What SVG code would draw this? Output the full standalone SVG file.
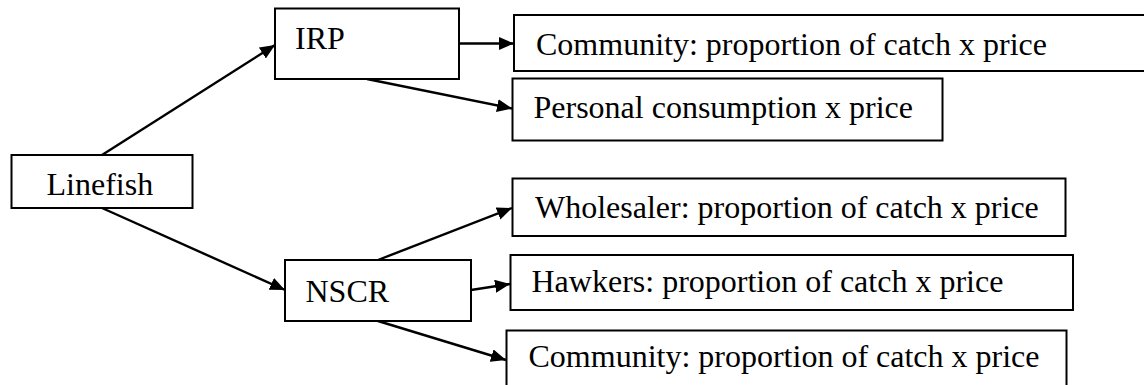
<svg xmlns="http://www.w3.org/2000/svg" width="1144" height="385" viewBox="0 0 1144 385">
<style>
.box{fill:#fff;stroke:#000;stroke-width:2}
.lbl{font-family:"Liberation Serif","Times New Roman",serif;font-size:32px;fill:#000}
.con{stroke:#000;stroke-width:2.4;fill:none;marker-end:url(#ah)}
</style>
<defs>
<marker id="ah" markerUnits="userSpaceOnUse" markerWidth="16" markerHeight="14" refX="15" refY="6.5" orient="auto">
<path d="M0,0 L15,6.5 L0,13 z" fill="#000"/>
</marker>
</defs>
<rect width="1144" height="385" fill="#fff"/>
<g id="connectors">
<line class="con" x1="102" y1="155" x2="275" y2="45"/>
<line class="con" x1="102" y1="208" x2="285" y2="290"/>
<line class="con" x1="459" y1="43.5" x2="514" y2="43.5"/>
<line class="con" x1="367" y1="79" x2="512" y2="108.5"/>
<line class="con" x1="378" y1="260" x2="512" y2="208"/>
<line class="con" x1="471" y1="290" x2="510" y2="284"/>
<line class="con" x1="378" y1="321" x2="506" y2="360"/>
</g>
<g id="linefish">
<rect class="box" x="11.5" y="155" width="181" height="53"/>
<text class="lbl" x="46.5" y="195">Linefish</text>
</g>
<g id="irp">
<rect class="box" x="275" y="8.5" width="184" height="70.5"/>
<text class="lbl" x="295" y="48.5">IRP</text>
</g>
<g id="nscr">
<rect class="box" x="285" y="260" width="186" height="61"/>
<text class="lbl" x="305.5" y="301.5">NSCR</text>
</g>
<g id="irp-community">
<rect class="box" x="514" y="15" width="640" height="56"/>
<text class="lbl" x="536" y="54.5">Community: proportion of catch x price</text>
</g>
<g id="irp-personal">
<rect class="box" x="512.5" y="78.5" width="430" height="62"/>
<text class="lbl" x="533.5" y="118">Personal consumption x price</text>
</g>
<g id="nscr-wholesaler">
<rect class="box" x="512.5" y="178.5" width="553" height="57.5"/>
<text class="lbl" x="535" y="218">Wholesaler: proportion of catch x price</text>
</g>
<g id="nscr-hawkers">
<rect class="box" x="510.5" y="255" width="562.5" height="55"/>
<text class="lbl" x="531.5" y="291.5">Hawkers: proportion of catch x price</text>
</g>
<g id="nscr-community">
<rect class="box" x="506.5" y="330.5" width="560" height="60"/>
<text class="lbl" x="528.5" y="366.5">Community: proportion of catch x price</text>
</g>
</svg>
